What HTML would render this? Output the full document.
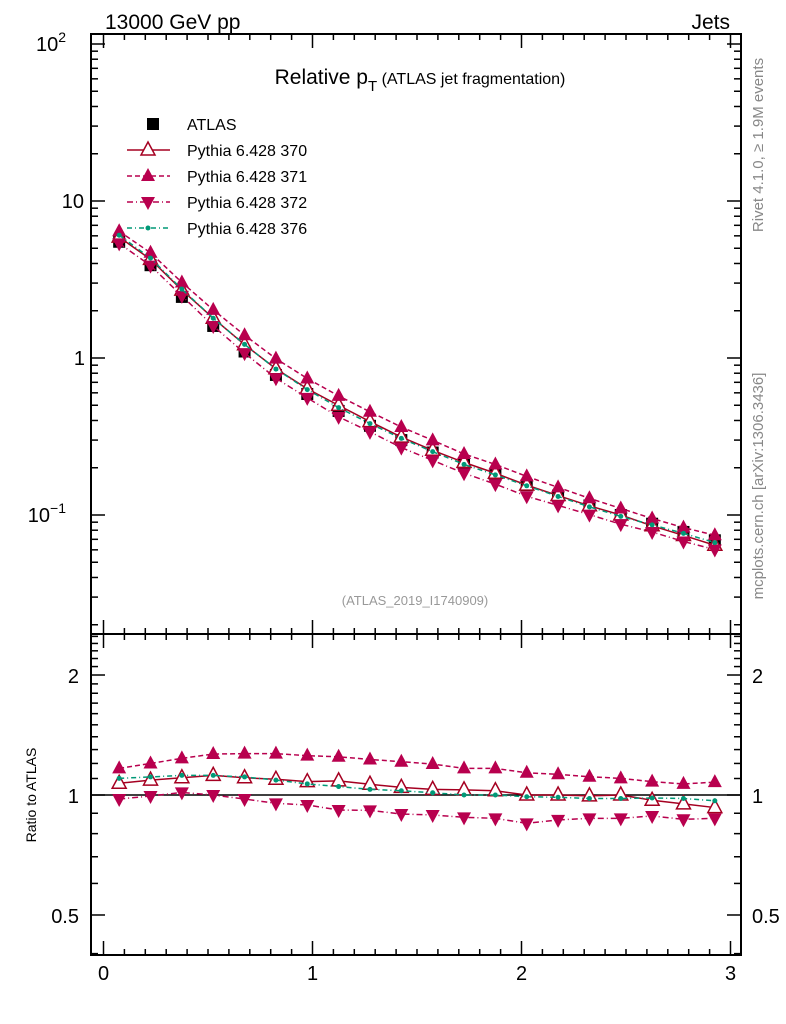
<!DOCTYPE html>
<html><head><meta charset="utf-8"><style>
body{margin:0;background:#fff;}
svg{display:block;font-family:"Liberation Sans",Arial,sans-serif;}
</style></head><body>
<svg id="chart" width="786" height="1024" viewBox="0 0 786 1024">
<g id="axes"></g>
<g id="marks"></g>
<g id="legend"></g>
<text x="105" y="29" font-size="21">13000 GeV pp</text>
<text x="730" y="29" font-size="21" text-anchor="end">Jets</text>
<text x="420" y="84" font-size="21" text-anchor="middle">Relative p<tspan font-size="15" dy="7">T</tspan><tspan font-size="16" dy="-7"> (ATLAS jet fragmentation)</tspan></text>
<text x="415" y="605" font-size="13" fill="#999" text-anchor="middle">(ATLAS_2019_I1740909)</text>
<text transform="translate(763,145) rotate(-90)" font-size="15" fill="#888" text-anchor="middle">Rivet 4.1.0, ≥ 1.9M events</text>
<text transform="translate(763,486) rotate(-90)" font-size="15" fill="#888" text-anchor="middle">mcplots.cern.ch [arXiv:1306.3436]</text>
<text transform="translate(36,795) rotate(-90)" font-size="14" text-anchor="middle">Ratio to ATLAS</text>
</svg>
<script>
const xCenters=[0.075,0.225,0.375,0.525,0.675,0.825,0.975,1.125,1.275,1.425,1.575,1.725,1.875,2.025,2.175,2.325,2.475,2.625,2.775,2.925];
const atlasValues=[5.5,3.9,2.45,1.6,1.1,0.78,0.59,0.46,0.37,0.30,0.25,0.21,0.18,0.155,0.133,0.115,0.1,0.088,0.078,0.069];
const ratio370=[1.07,1.09,1.105,1.12,1.105,1.095,1.08,1.085,1.064,1.045,1.033,1.03,1.025,1.0,1.0,0.995,1.0,0.97,0.95,0.93];
const ratio371=[1.166,1.2,1.236,1.267,1.27,1.27,1.255,1.247,1.228,1.212,1.196,1.166,1.166,1.137,1.127,1.111,1.101,1.08,1.066,1.077];
const ratio372=[0.977,0.994,1.015,1.0,0.977,0.953,0.944,0.917,0.915,0.896,0.891,0.879,0.874,0.849,0.866,0.874,0.874,0.886,0.869,0.874];
const ratio376=[1.101,1.11,1.12,1.12,1.11,1.09,1.066,1.05,1.033,1.025,1.013,1.0,1.0,0.99,0.987,0.98,0.98,0.983,0.98,0.967];
const xTicks=[0,1,2,3];
const mainTicks=[0.1,1,10,100];
const ratioTicks=[0.5,1,2];

const NS="http://www.w3.org/2000/svg";
const L=91,R=741,T=34,MID=634,B=955;
const X=v=>103.5+209*v;
const Y=v=>358-157*Math.log10(v);
const YR=v=>795-398.6*Math.log10(v);
const axes=document.getElementById('axes'),marks=document.getElementById('marks'),legend=document.getElementById('legend');
function mk(tag,attrs,parent){const e=document.createElementNS(NS,tag);for(const k in attrs)e.setAttribute(k,attrs[k]);parent.appendChild(e);return e;}

// frames
let f1=mk('rect',{x:L,y:T,width:R-L,height:MID-T,fill:'none',stroke:'#000','stroke-width':2},axes);


let f2=mk('rect',{x:L,y:MID,width:R-L,height:B-MID,fill:'none',stroke:'#000','stroke-width':2},axes);



// x ticks
for(let v=0;v<=3.0001;v+=0.1){
  const major=Math.abs(v-Math.round(v))<1e-6;const len=major?14:6;const x=X(v);
  if(x>R)break;
  for(const [y0,d] of [[MID,-1],[T,1],[B,-1],[MID,1]]){mk('line',{x1:x,x2:x,y1:y0,y2:y0+d*len,stroke:'#000','stroke-width':1.5},axes);}
}
xTicks.forEach(v=>{const t=mk('text',{x:X(v),y:980,'font-size':20,'text-anchor':'middle'},axes);t.textContent=v;

});

// main y ticks (log)
for(let d=-2;d<=2;d++){for(let m=1;m<10;m++){const v=m*Math.pow(10,d);const y=Y(v);if(y<T||y>MID)continue;const len=m==1?14:7;
mk('line',{x1:L,x2:L+len,y1:y,y2:y,stroke:'#000','stroke-width':1.5},axes);
mk('line',{x1:R,x2:R-len,y1:y,y2:y,stroke:'#000','stroke-width':1.5},axes);}}
const mainLabels={0.1:['10','−1'],1:['1',''],10:['10',''],100:['10','2']};
mainTicks.forEach(v=>{const t=mk('text',{x:v==1?85:(mainLabels[v][1]?66:84),y:Y(v)+7,'font-size':20,'text-anchor':'end'},axes);
t.textContent=mainLabels[v][0];
if(mainLabels[v][1]){const s=mk('tspan',{'font-size':14,dy:-9},t);s.textContent=mainLabels[v][1];}

});

// ratio y ticks
for(let v=0.4;v<=2.6;v+=0.1){const y=YR(v);if(y<MID||y>B)continue;const maj=[0.5,1,2].some(a=>Math.abs(a-v)<1e-6);const len=maj?14:7;
mk('line',{x1:L,x2:L+len,y1:y,y2:y,stroke:'#000','stroke-width':1.5},axes);
mk('line',{x1:R,x2:R-len,y1:y,y2:y,stroke:'#000','stroke-width':1.5},axes);}
ratioTicks.forEach(v=>{for(const [x,a] of [[79,'end'],[752,'start']]){const t=mk('text',{x:x,y:YR(v)+8,'font-size':20,'text-anchor':a},axes);t.textContent=v;

}});
mk('line',{x1:L,x2:R,y1:YR(1),y2:YR(1),stroke:'#000','stroke-width':1.5},axes);

// series
const series=[
 {name:'pythia-370',r:ratio370,color:'#a50021',dash:'',marker:'open-up'},
 {name:'pythia-371',r:ratio371,color:'#b8004e',dash:'5,3',marker:'up'},
 {name:'pythia-372',r:ratio372,color:'#b8004e',dash:'6,3,1,3',marker:'down'},
 {name:'pythia-376',r:ratio376,color:'#009977',dash:'5,3,1,3',marker:'dot'}
];
function marker(type,x,y,color,parent,nm){let e;
 if(type=='open-up')e=mk('polygon',{points:`${x},${y-8} ${x-7},${y+5} ${x+7},${y+5}`,fill:'#fff',stroke:color,'stroke-width':1.5},parent);
 else if(type=='up')e=mk('polygon',{points:`${x},${y-8} ${x-7},${y+5} ${x+7},${y+5}`,fill:color},parent);
 else if(type=='down')e=mk('polygon',{points:`${x},${y+8} ${x-7},${y-5} ${x+7},${y-5}`,fill:color},parent);
 else if(type=='dot')e=mk('circle',{cx:x,cy:y,r:2.5,fill:color},parent);
 else e=mk('rect',{x:x-6,y:y-6,width:12,height:12,fill:'#000'},parent);
 
 
 return e;}

// data points main
xCenters.forEach((x,i)=>{marker('sq',X(x),Y(atlasValues[i]),'#000',marks,'atlas-point');});
series.forEach(s=>{
 const ptsM=xCenters.map((x,i)=>`${X(x)},${Y(atlasValues[i]*s.r[i])}`).join(' ');
 const ptsR=xCenters.map((x,i)=>`${X(x)},${YR(s.r[i])}`).join(' ');
 const l1=mk('polyline',{points:ptsM,fill:'none',stroke:s.color,'stroke-width':1.5,'stroke-dasharray':s.dash},marks);
 
 
 const l2=mk('polyline',{points:ptsR,fill:'none',stroke:s.color,'stroke-width':1.5,'stroke-dasharray':s.dash},marks);
 
 
 xCenters.forEach((x,i)=>{marker(s.marker,X(x),Y(atlasValues[i]*s.r[i]),s.color,marks,s.name+'-point');
 marker(s.marker,X(x),YR(s.r[i]),s.color,marks,s.name+'-ratio-point');});
});

// legend
const legNames=['ATLAS','Pythia 6.428 370','Pythia 6.428 371','Pythia 6.428 372','Pythia 6.428 376'];
const legY=[124,150,176,202,228];
legNames.forEach((n,i)=>{const y=legY[i];
 if(i>0){const s=series[i-1];const l=mk('line',{x1:127,x2:170,y1:y,y2:y,stroke:s.color,'stroke-width':1.5,'stroke-dasharray':s.dash},legend);
 
 
 marker(s.marker,148,y,s.color,legend,'legend-marker');}
 else marker('sq',153,y,'#000',legend,'legend-marker');
 const t=mk('text',{x:187,y:y+6,'font-size':16},legend);t.textContent=n;
 
 
});
</script>
</body></html>
